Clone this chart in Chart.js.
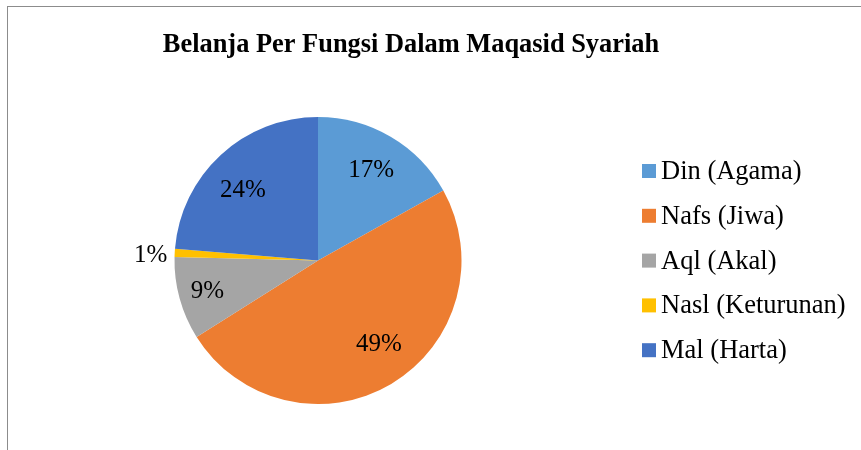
<!DOCTYPE html>
<html><head><meta charset="utf-8">
<script src="https://cdn.jsdelivr.net/npm/chart.js@4.4.1/dist/chart.umd.min.js"></script>
<style>
html,body{margin:0;padding:0;background:#fff;overflow:hidden;width:861px;height:450px;}
#frame{position:absolute;left:7px;top:6px;width:900px;height:500px;border:1px solid #8c8c8c;box-sizing:border-box;}
#wrap{position:absolute;left:0;top:0;width:861px;height:450px;}
</style></head>
<body>
<div id="frame"></div>
<div id="wrap"><canvas id="c" width="861" height="450"></canvas></div>
<script>
const titleText = "Belanja Per Fungsi Dalam Maqasid Syariah";
const categories = ["Din (Agama)", "Nafs (Jiwa)", "Aql (Akal)", "Nasl (Keturunan)", "Mal (Harta)"];
const shares = [16.9, 49.15, 9.35, 0.9, 23.7];
const colors = ["#5B9BD5", "#ED7D31", "#A5A5A5", "#FFC000", "#4472C4"];

const FONT = "'Liberation Serif', 'Times New Roman', serif";

const decor = {
  id: 'decor',
  afterDraw(chart) {
    const ctx = chart.ctx;
    // label placement (style only): radius factor and small pixel nudges
    const labelRadius = [0.73, 0.73, 0.80, 1.16, 0.72];
    const labelShift = [[0, 0], [7.5, -6], [0, 0], [-1, 3.5], [-5, 6]];
    ctx.save();
    ctx.fillStyle = '#000';
    ctx.font = "bold 26.4px " + FONT;
    ctx.textAlign = 'center';
    ctx.textBaseline = 'middle';
    ctx.fillText(titleText, 411, 45);
    const meta = chart.getDatasetMeta(0);
    const total = shares.reduce((a, b) => a + b, 0);
    ctx.font = "25px " + FONT;
    meta.data.forEach((arc, i) => {
      const p = arc.getProps(['x', 'y', 'startAngle', 'endAngle', 'outerRadius'], true);
      const mid = (p.startAngle + p.endAngle) / 2;
      const r = p.outerRadius * labelRadius[i];
      const x = p.x + Math.cos(mid) * r + labelShift[i][0];
      const y = p.y + Math.sin(mid) * r + labelShift[i][1];
      ctx.fillText(Math.round(shares[i] / total * 100) + '%', x, y);
    });
    ctx.textAlign = 'left';
    ctx.font = "26.5px " + FONT;
    categories.forEach((c, i) => {
      const y = 172 + i * 44.8;
      ctx.fillStyle = colors[i];
      ctx.fillRect(642, y - 8, 14, 14);
      ctx.fillStyle = '#000';
      ctx.fillText(c, 661, y);
    });
    ctx.restore();
  }
};

new Chart(document.getElementById('c'), {
  type: 'pie',
  data: {
    labels: categories,
    datasets: [{ data: shares, backgroundColor: colors, borderWidth: 0 }]
  },
  options: {
    responsive: false,
    animation: false,
    layout: { padding: { top: 117, bottom: 46, left: 174.5, right: 399.5 } },
    plugins: { legend: { display: false }, title: { display: false }, tooltip: { enabled: false } }
  },
  plugins: [decor]
});
</script>
</body></html>
